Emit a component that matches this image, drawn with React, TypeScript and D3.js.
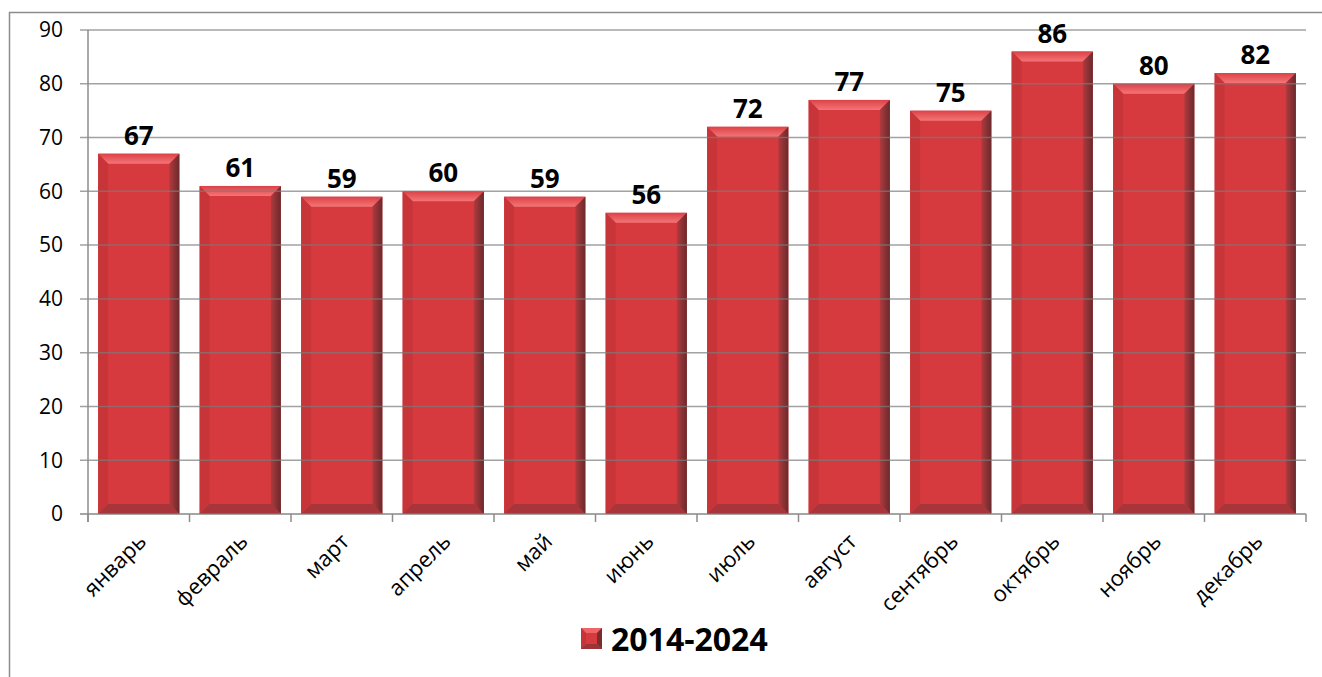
import React from "react";
import * as d3 from "d3";

const months = ["январь", "февраль", "март", "апрель", "май", "июнь", "июль", "август", "сентябрь", "октябрь", "ноябрь", "декабрь"];
const values = [67, 61, 59, 60, 59, 56, 72, 77, 75, 86, 80, 82];
const yTicks = [0, 10, 20, 30, 40, 50, 60, 70, 80, 90];
const seriesName = "2014-2024";

const W = 1322;
const H = 677;
const m = { left: 88, right: 1306, top: 30, bottom: 514 };
const font = "Open Sans, Lato, sans-serif";

function BevelBar({ x, y, w, h }: { x: number; y: number; w: number; h: number }) {
  const b = Math.min(10, h / 2);
  const x2 = x + w;
  const y2 = y + h;
  return (
    <g>
      <rect x={x} y={y} width={w} height={h} fill="#d63a3f" />
      <polygon points={`${x},${y} ${x2},${y} ${x2 - b},${y + b} ${x + b},${y + b}`} fill="url(#topBev)" />
      <polygon points={`${x},${y} ${x + b},${y + b} ${x + b},${y2 - b} ${x},${y2}`} fill="#c83539" />
      <polygon points={`${x2},${y} ${x2},${y2} ${x2 - b},${y2 - b} ${x2 - b},${y + b}`} fill="url(#rightBev)" />
      <polygon points={`${x},${y2} ${x + b},${y2 - b} ${x2 - b},${y2 - b} ${x2},${y2}`} fill="#a8353a" />
    </g>
  );
}

export default function App() {
  const x = d3.scaleBand<string>().domain(months).range([m.left, m.right]).paddingInner(0.2).paddingOuter(0.1);
  const step = (m.right - m.left) / months.length;
  const y = d3.scaleLinear().domain([0, 90]).range([m.bottom, m.top]);

  return (
    <svg width={W} height={H} style={{ position: "absolute", left: 0, top: 0 }} fontFamily={font}>
      <defs>
        <linearGradient id="topBev" x1="0" y1="0" x2="0" y2="1">
          <stop offset="0" stopColor="#dc4247" />
          <stop offset="1" stopColor="#f47576" />
        </linearGradient>
        <linearGradient id="rightBev" x1="0" y1="0" x2="1" y2="0">
          <stop offset="0" stopColor="#b03a3e" />
          <stop offset="1" stopColor="#6a2a2c" />
        </linearGradient>
      </defs>
      <rect x={0} y={0} width={W} height={H} fill="#fff" />
      <rect x={9.5} y={12.5} width={W} height={H} fill="none" stroke="#8c8c8c" strokeWidth={1.5} />

      {/* bars */}
      {values.map((v, i) => (
        <BevelBar key={i} x={x(months[i])!} y={y(v)} w={x.bandwidth()} h={y(0) - y(v)} />
      ))}

      {/* gridlines */}
      {yTicks.map((t) => (
        <line key={t} x1={m.left - 8} x2={m.right} y1={y(t)} y2={y(t)} stroke="#7a7a7a" strokeOpacity={t === 0 ? 0.9 : 0.7} strokeWidth={1.5} />
      ))}
      {/* y axis */}
      <line x1={m.left} x2={m.left} y1={m.top} y2={m.bottom + 8} stroke="#8c8c8c" strokeWidth={1.5} />
      {/* x ticks */}
      {d3.range(months.length + 1).map((i) => (
        <line key={i} x1={m.left + i * step} x2={m.left + i * step} y1={m.bottom} y2={m.bottom + 8} stroke="#8c8c8c" strokeWidth={1.5} />
      ))}

      {/* y labels */}
      {yTicks.map((t) => (
        <text key={t} x={63} y={y(t)} dy="0.35em" textAnchor="end" fontSize={21} fill="#000">
          {t}
        </text>
      ))}

      {/* data labels */}
      {values.map((v, i) => (
        <text key={i} x={x(months[i])! + x.bandwidth() / 2} y={y(v) - 9} textAnchor="middle" fontSize={26} fontWeight="bold" fill="#000">
          {v}
        </text>
      ))}

      {/* x labels */}
      {months.map((mo) => {
        const cx = x(mo)! + x.bandwidth() / 2 - 2;
        const cy = m.bottom + 18;
        return (
          <text key={mo} transform={`translate(${cx},${cy}) rotate(-45)`} textAnchor="end" dy="0.7em" fontSize={22} fill="#000">
            {mo}
          </text>
        );
      })}

      {/* legend */}
      <g>
        <rect x={581} y={628} width={21} height={21} fill="#d63a3f" />
        <polygon points="581,628 602,628 597,633 586,633" fill="#ef6466" />
        <polygon points="602,628 602,649 597,644 597,633" fill="#7a2c2e" />
        <polygon points="581,649 602,649 597,644 586,644" fill="#9e3337" />
        <polygon points="581,628 581,649 586,644 586,633" fill="#c53438" />
        <text x={611} y={651} fontSize={32} fontWeight="bold" fill="#000">
          {seriesName}
        </text>
      </g>
    </svg>
  );
}
